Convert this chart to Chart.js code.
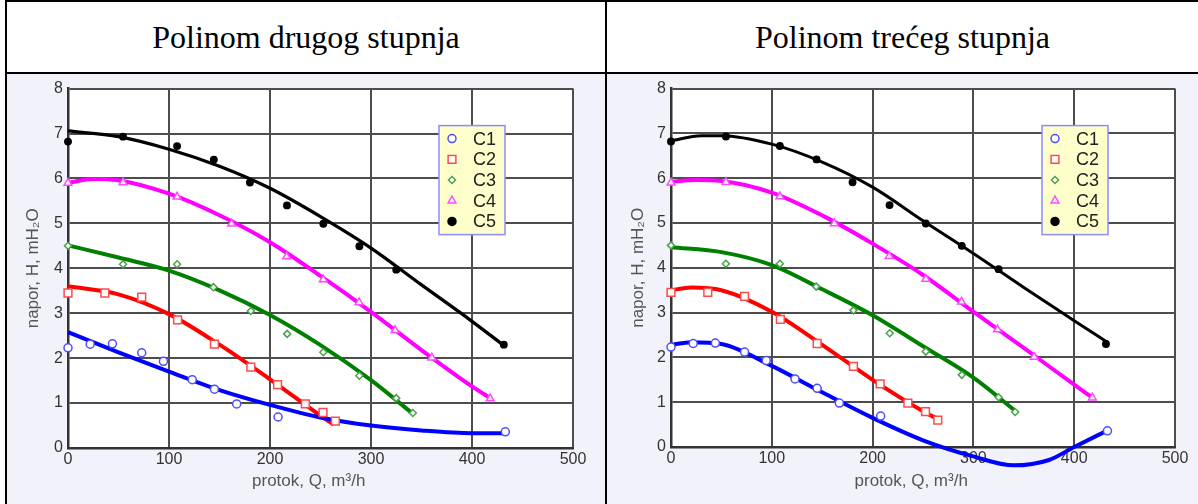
<!DOCTYPE html>
<html>
<head>
<meta charset="utf-8">
<script src="https://cdn.jsdelivr.net/npm/chart.js@4.4.1/dist/chart.umd.min.js"></script>
<style>
    body {
        margin: 0;
        width: 1198px;
        height: 504px;
        overflow: hidden;
        position: relative;
        background: #ffffff;
    }
    .rule {
        position: absolute;
        background: #000000;
    }
    .head {
        position: absolute;
        top: 2px;
        height: 70px;
        display: flex;
        align-items: center;
        justify-content: center;
        font-family: "Liberation Serif", "Times New Roman", serif;
        font-size: 32px;
        color: #000000;
    }
    .cell {
        position: absolute;
        top: 74px;
        height: 430px;
        background: #f2f2fb;
    }
    canvas {
        display: block;
    }
</style>
</head>
<body>
<div class="rule" style="left:5px;top:0;width:1193px;height:2px"></div>
<div class="rule" style="left:5px;top:0;width:2px;height:504px"></div>
<div class="rule" style="left:5px;top:72px;width:1193px;height:2px"></div>
<div class="rule" style="left:605px;top:0;width:2px;height:504px"></div>

<div class="head" style="left:7px;width:598px">Polinom drugog stupnja</div>
<div class="head" style="left:607px;width:591px">Polinom trećeg stupnja</div>

<div class="cell" style="left:7px;width:598px"><canvas id="chart2" width="598" height="430"></canvas></div>
<div class="cell" style="left:607px;width:591px"><canvas id="chart3" width="591" height="430"></canvas></div>

<script>
// measured points (same in both charts)
const C1_Q = [0, 22, 44, 73, 94.5, 123, 145, 167, 208, 433];
const C1_H = [2.23, 2.31, 2.32, 2.12, 1.93, 1.52, 1.31, 0.98, 0.69, 0.36];
const C2_Q = [0, 36.5, 73, 108.5, 145, 181, 207.5, 235, 252.5, 264.7];
const C2_H = [3.45, 3.45, 3.36, 2.85, 2.31, 1.80, 1.41, 0.98, 0.79, 0.60];
const C3_Q = [0, 54.5, 108, 144, 181, 217, 252.8, 288.5, 325, 341.4];
const C3_H = [4.50, 4.09, 4.09, 3.58, 3.05, 2.54, 2.13, 1.61, 1.11, 0.78];
const C4_Q = [0, 54.5, 108, 162, 216.5, 252.8, 288.2, 323.9, 360.2, 418];
const C4_H = [5.90, 5.91, 5.59, 4.99, 4.26, 3.75, 3.24, 2.62, 2.01, 1.10];
const C5_Q = [0, 54.5, 108, 144.4, 180.1, 216.8, 252.8, 288.5, 325, 431.5];
const C5_H = [6.82, 6.93, 6.72, 6.42, 5.91, 5.40, 4.99, 4.49, 3.97, 2.30];

// curve (2nd degree)
const FIT2_C1_Q = [0, 50, 100, 150, 200, 250, 300, 350, 400, 432];
const FIT2_C1_H = [2.58, 2.13, 1.70, 1.29, 0.96, 0.68, 0.50, 0.39, 0.33, 0.33];
const FIT2_C2_Q = [0, 50, 100, 150, 200, 250, 263];
const FIT2_C2_H = [3.60, 3.42, 2.98, 2.30, 1.53, 0.72, 0.52];
const FIT2_C3_Q = [0, 50, 100, 150, 200, 250, 300, 341];
const FIT2_C3_H = [4.51, 4.24, 3.95, 3.51, 2.96, 2.29, 1.51, 0.77];
const FIT2_C4_Q = [0, 25, 50, 100, 150, 200, 250, 300, 350, 400, 418];
const FIT2_C4_H = [5.90, 5.99, 5.96, 5.66, 5.18, 4.58, 3.83, 3.03, 2.18, 1.37, 1.11];
const FIT2_C5_Q = [0, 50, 100, 150, 200, 250, 300, 350, 400, 431];
const FIT2_C5_H = [7.06, 6.93, 6.65, 6.27, 5.78, 5.15, 4.45, 3.63, 2.82, 2.29];

// curve (3rd degree)
const FIT3_C1_Q = [0, 20, 50, 100, 150, 200, 250, 300, 340, 375, 400, 434];
const FIT3_C1_H = [2.28, 2.34, 2.30, 1.81, 1.22, 0.65, 0.15, -0.21, -0.41, -0.29, 0.0, 0.38];
const FIT3_C2_Q = [0, 20, 50, 100, 150, 200, 250, 266];
const FIT3_C2_H = [3.50, 3.56, 3.50, 3.02, 2.28, 1.50, 0.80, 0.61];
const FIT3_C3_Q = [0, 50, 100, 150, 200, 250, 300, 342];
const FIT3_C3_H = [4.46, 4.35, 4.06, 3.52, 2.94, 2.25, 1.55, 0.80];
const FIT3_C4_Q = [0, 25, 50, 100, 150, 200, 250, 300, 350, 400, 418];
const FIT3_C4_H = [5.92, 5.96, 5.94, 5.68, 5.17, 4.54, 3.84, 3.02, 2.21, 1.39, 1.10];
const FIT3_C5_Q = [0, 30, 50, 100, 150, 200, 250, 300, 350, 400, 434];
const FIT3_C5_H = [6.83, 6.95, 6.95, 6.76, 6.36, 5.80, 5.05, 4.32, 3.56, 2.82, 2.32];

const SERIES_NAMES = ["C1", "C2", "C3", "C4", "C5"];
const X_TICKS = [0, 100, 200, 300, 400, 500];
const Y_TICKS = [0, 1, 2, 3, 4, 5, 6, 7, 8];
const X_TITLE = "protok, Q, m³/h";
const Y_TITLE = "napor, H, mH₂O";

const LINE_COLORS = ["#0000ff", "#ff0000", "#008000", "#ff00ff", "#000000"];
const POINT_COLORS = ["#4d4dff", "#ff4a4a", "#4aa04a", "#ff4aff", "#000000"];
const POINT_STYLES = ["circle", "rect", "rectRot", "triangle", "circle"];
const POINT_RADII = [4, 5.5, 3.5, 4.5, 3.2];
const FONT = "'Liberation Sans', Arial, sans-serif";

Chart.defaults.font.family = FONT;

function toXY(q, h) {
    return q.map((x, i) => ({ x: x, y: h[i] }));
}

const plotBackground = {
    id: "plotBackground",
    beforeDraw(chart) {
        const { ctx, chartArea } = chart;
        ctx.save();
        ctx.fillStyle = "#ffffff";
        ctx.fillRect(chartArea.left, chartArea.top, chartArea.width, chartArea.height);
        ctx.restore();
    },
};

// boxed legend inside the plot, like the original
const boxLegend = {
    id: "boxLegend",
    afterDraw(chart) {
        const { ctx, chartArea } = chart;
        const x = chartArea.left + 371;
        const y = chartArea.top + 37;
        ctx.save();
        ctx.fillStyle = "#ffffcc";
        ctx.fillRect(x, y, 66, 109);
        ctx.strokeStyle = "#8c8cff";
        ctx.lineWidth = 1.5;
        ctx.strokeRect(x, y, 66, 109);
        for (let i = 0; i < SERIES_NAMES.length; i++) {
            const cy = y + 13 + i * 20.7;
            ctx.strokeStyle = POINT_COLORS[i];
            ctx.fillStyle = i == 4 ? "#000000" : "#ffffff";
            ctx.lineWidth = 1.5;
            Chart.helpers.drawPoint(
                ctx,
                { pointStyle: POINT_STYLES[i], radius: i == 4 ? 4 : POINT_RADII[i], borderWidth: 1.5, rotation: 0 },
                x + 13,
                cy
            );
            ctx.fillStyle = "#222222";
            ctx.font = "18px " + FONT;
            ctx.textBaseline = "middle";
            ctx.textAlign = "left";
            ctx.fillText(SERIES_NAMES[i], x + 34, cy + 1);
        }
        ctx.restore();
    },
};

function createChart(canvas, fitQ, fitH, axisW, axisH, rightPad, yTitlePad, curveWidths) {
    const pointQ = [C1_Q, C2_Q, C3_Q, C4_Q, C5_Q];
    const pointH = [C1_H, C2_H, C3_H, C4_H, C5_H];
    const datasets = [];

    for (let i = 0; i < SERIES_NAMES.length; i++) {
        datasets.push({
            label: SERIES_NAMES[i] + " fit",
            data: toXY(fitQ[i], fitH[i]),
            showLine: true,
            borderColor: LINE_COLORS[i],
            borderWidth: curveWidths[i],
            cubicInterpolationMode: "monotone",
            pointRadius: 0,
            clip: false,
            order: 2,
        });
        datasets.push({
            label: SERIES_NAMES[i],
            data: toXY(pointQ[i], pointH[i]),
            showLine: false,
            pointStyle: POINT_STYLES[i],
            pointRadius: POINT_RADII[i],
            pointBorderWidth: 1.5,
            pointBorderColor: POINT_COLORS[i],
            pointBackgroundColor: i == 4 ? "#000000" : "#ffffff",
            clip: false,
            order: 1,
        });
    }

    return new Chart(canvas, {
        type: "scatter",
        data: { datasets: datasets },
        plugins: [plotBackground, boxLegend],
        options: {
            responsive: false,
            animation: false,
            devicePixelRatio: 1,
            layout: { padding: { left: 0, top: 12, right: rightPad, bottom: 0 } },
            plugins: {
                legend: { display: false },
                tooltip: { enabled: false },
            },
            scales: {
                x: {
                    type: "linear",
                    min: X_TICKS[0],
                    max: X_TICKS[X_TICKS.length - 1],
                    afterBuildTicks: (axis) => {
                        axis.ticks = X_TICKS.map((v) => ({ value: v }));
                    },
                    afterFit: (axis) => {
                        axis.height = axisH;
                    },
                    ticks: { color: "#333333", font: { size: 16 }, padding: 2, maxRotation: 0 },
                    grid: { color: "#4d4d4d", lineWidth: 2, drawTicks: false },
                    border: { color: "#333333", width: 2.5 },
                    title: {
                        display: true,
                        // trailing spaces pull the title a bit left of the plot centre, as in the original
                        text: X_TITLE + "\u00a0\u00a0\u00a0\u00a0\u00a0",
                        color: "#555555",
                        font: { size: 17 },
                        padding: { top: 0, bottom: 12 },
                    },
                },
                y: {
                    type: "linear",
                    min: Y_TICKS[0],
                    max: Y_TICKS[Y_TICKS.length - 1],
                    afterBuildTicks: (axis) => {
                        axis.ticks = Y_TICKS.map((v) => ({ value: v }));
                    },
                    afterFit: (axis) => {
                        axis.width = axisW;
                    },
                    ticks: { color: "#333333", font: { size: 16 }, padding: 5 },
                    grid: { color: "#4d4d4d", lineWidth: 2, drawTicks: false },
                    border: { color: "#333333", width: 2.5 },
                    title: {
                        display: true,
                        text: Y_TITLE,
                        color: "#555555",
                        font: { size: 17 },
                        padding: { top: yTitlePad, bottom: 0 },
                    },
                },
            },
        },
    });
}

createChart(
    document.getElementById("chart2"),
    [FIT2_C1_Q, FIT2_C2_Q, FIT2_C3_Q, FIT2_C4_Q, FIT2_C5_Q],
    [FIT2_C1_H, FIT2_C2_H, FIT2_C3_H, FIT2_C4_H, FIT2_C5_H],
    61, 56, 32, 16,
    [4, 4, 4, 4, 3.3]
);
createChart(
    document.getElementById("chart3"),
    [FIT3_C1_Q, FIT3_C2_Q, FIT3_C3_Q, FIT3_C4_Q, FIT3_C5_Q],
    [FIT3_C1_H, FIT3_C2_H, FIT3_C3_H, FIT3_C4_H, FIT3_C5_H],
    64, 57, 23, 21,
    [4, 4, 4, 4, 3]
);
</script>
</body>
</html>
